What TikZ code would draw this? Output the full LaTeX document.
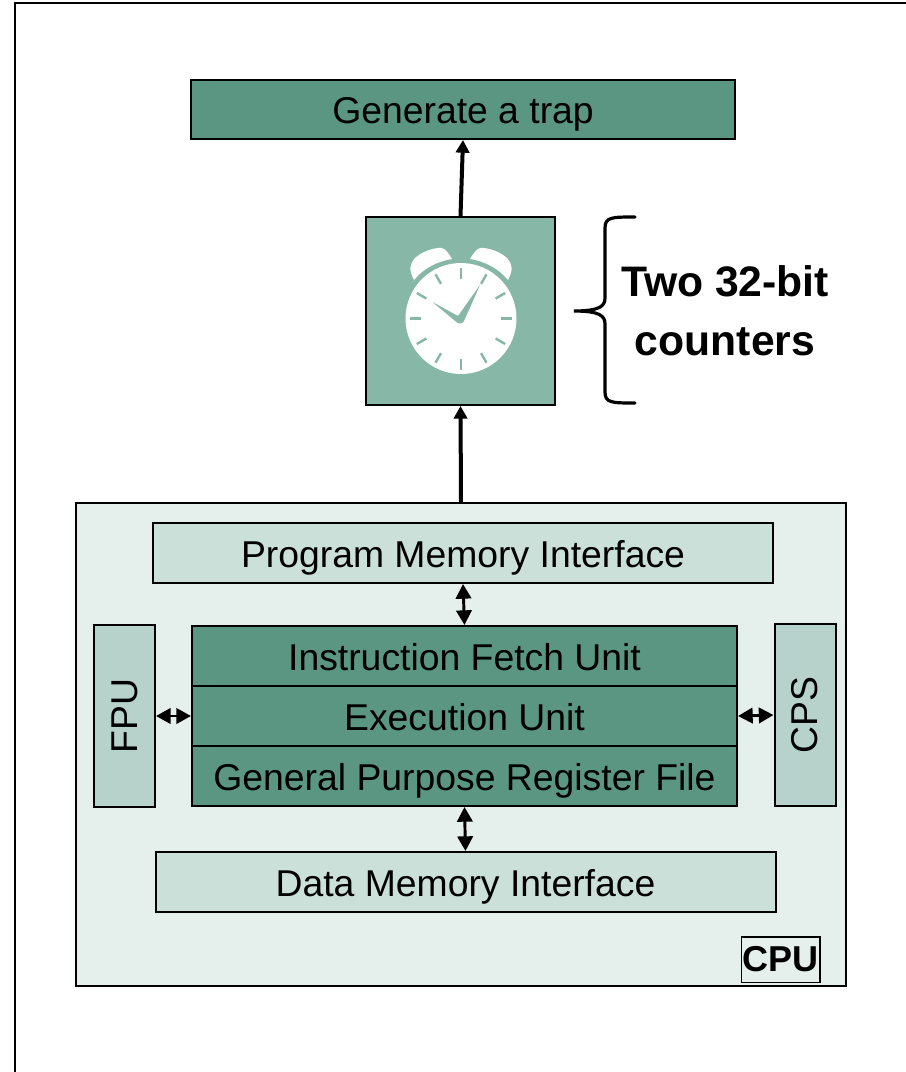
\documentclass[tikz,border=0pt]{standalone}
\usepackage{fontspec}
\setmainfont{Liberation Sans}
\usetikzlibrary{arrows.meta,positioning}
\definecolor{unitgreen}{HTML}{5A9681}
\definecolor{timergreen}{HTML}{87B7A7}
\definecolor{cpubg}{HTML}{E5EFEB}
\definecolor{memgreen}{HTML}{CCE0DA}
\definecolor{sidegreen}{HTML}{B7D2CA}
\tikzset{box/.style={rectangle,draw=black,line width=1.5pt,inner sep=0pt,font=\fontsize{28}{32}\selectfont},
         titled/.style={box,text height=21.4pt,text depth=0pt},
         unit/.style={titled,fill=unitgreen,minimum width=408.75pt,minimum height=45pt},
         memif/.style={titled,fill=memgreen,minimum width=465pt,minimum height=45pt},
         side/.style={box,fill=sidegreen,minimum width=45.75pt,minimum height=136pt},
         link/.style={line width=2.2pt,{Triangle[length=11pt,width=11.5pt]}-{Triangle[length=11pt,width=11.5pt]}},
         feed/.style={line width=3pt,-{Triangle[length=9.5pt,width=10pt]}},
         tick/.style={timergreen,line width=1.8pt}
}
\begin{document}
\begin{tikzpicture}[x=0.75pt,y=-0.75pt]
\useasboundingbox (0,0) rectangle (906,1072);
\draw[line width=1.5pt] (15,1072) -- (15,2.5) -- (906,2.5);
\node [titled,fill=unitgreen,minimum width=408pt,minimum height=44.25pt] (trap) at (463,109.5) {Generate a trap};
\node [box,fill=timergreen,minimum width=141.75pt,minimum height=141pt] (timer) at (460.5,311) {};
\node [box,fill=cpubg,minimum width=577.5pt,minimum height=362.25pt] (cpu) at (461,744.5) {};
\node [memif] (pmi) at (463,553) {Program Memory Interface};
\node [unit] (fetch) at (464.5,656) {Instruction Fetch Unit};
\node [unit,below=-1.5pt of fetch] (exec) {Execution Unit};
\node [unit,below=-1.5pt of exec] (gpr) {General Purpose Register File};
\node [memif] (dmi) at (465.5,882) {Data Memory Interface};
\node [side] (fpu) at (124.5,716) {\rotatebox{90}{FPU}};
\node [side] (cps) at (805,715) {\rotatebox{90}{CPS}};
\node [box,line width=1pt,font=\fontsize{27}{30}\selectfont\bfseries,minimum width=59pt,minimum height=34pt] (cpulabel) at (780.5,959.5) {CPU};
\node [align=center,font=\fontsize{32}{44}\selectfont\bfseries] (counters) at (725,310.5) {Two 32-bit\\counters};
% arrows
\draw [feed] (timer.north) -- (trap.south);
\draw [feed] (cpu.north) -- (timer.south);
\draw [link] (pmi.south) -- (fetch.north);
\draw [link] (gpr.south) -- (dmi.north);
\draw [link] (fpu.east) -- (exec.west);
\draw [link] (exec.east) -- (cps.west);
% brace
\draw [line width=2.4pt,line cap=round] (635,217) .. controls (612,217) and (605,217) .. (605,228) -- (605,298)
    .. controls (605,306) and (600,311) .. (574,311) .. controls (600,311) and (605,316) .. (605,324) -- (605,392)
    .. controls (605,403) and (612,403) .. (635,403);
% clock
\fill [white] (461,318.5) circle [radius=55.5];
\fill [white] (414,280) .. controls (409,270) and (409,265) .. (415,258) .. controls (422,252) and (430,249) .. (438,248)
    .. controls (443,247) and (446,249) .. (452,259) .. controls (437.4,261.2) and (423.3,268.5) .. cycle;
\fill [white] (508,280) .. controls (513,270) and (513,265) .. (507,258) .. controls (500,252) and (492,249) .. (484,248)
    .. controls (479,247) and (476,249) .. (470,259) .. controls (484.7,261.2) and (498.7,268.5) .. cycle;
\foreach \ang in {0,30,...,330}
    \draw [tick,shift={(461,318.5)}] (\ang:40) -- (\ang:51);
\fill [timergreen] (432.5,302) -- (458,316) -- (480,285) -- (463.5,322) .. controls (461,324) and (459,324) .. (457,322.5) -- cycle;
\end{tikzpicture}
\end{document}
